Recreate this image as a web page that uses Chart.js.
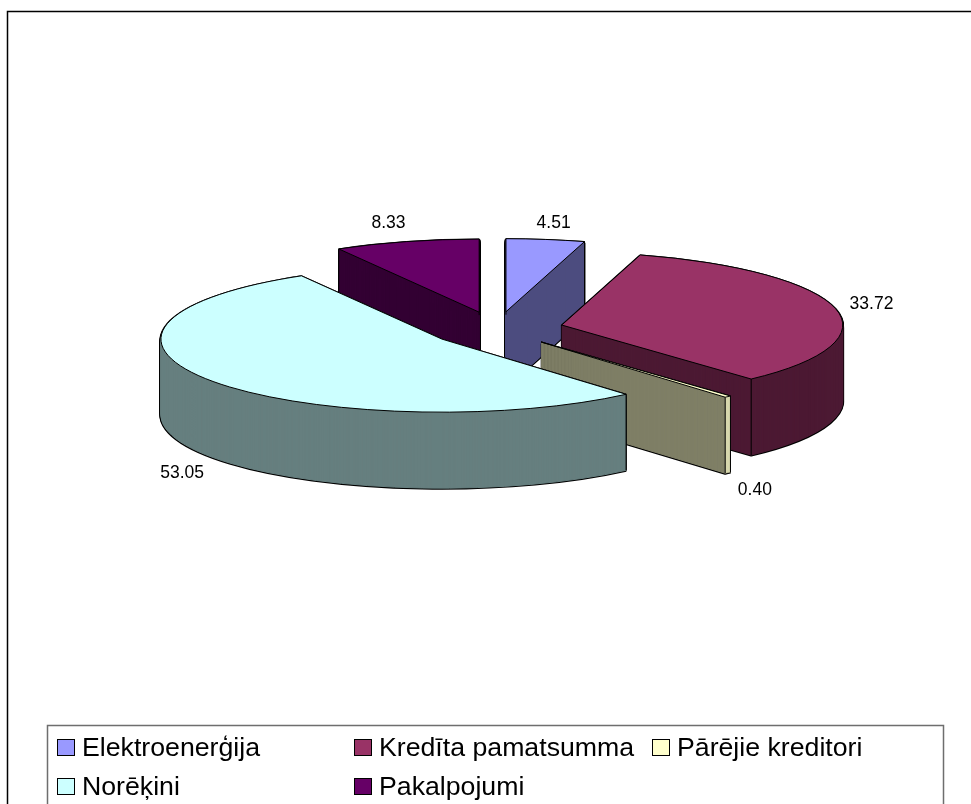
<!DOCTYPE html>
<html>
<head>
<meta charset="utf-8">
<style>html,body{margin:0;padding:0;background:#fff;overflow:hidden}canvas{display:block}</style>
<script src="https://cdn.jsdelivr.net/npm/chart.js@4/dist/chart.umd.js"></script>
</head>
<body>
<canvas id="c" width="971" height="804"></canvas>
<script>
const categories = ['Elektroenerģija', 'Kredīta pamatsumma', 'Pārējie kreditori', 'Norēķini', 'Pakalpojumi'];
const values = [4.51, 33.72, 0.40, 53.05, 8.33];
const valueLabels = ['4.51', '33.72', '0.40', '53.05', '8.33'];
const topColors = ['#9999FF', '#993366', '#FFFFCC', '#CCFFFF', '#660066'];
const wallColors = ['#4C4C7F', '#4C1933', '#7F7F66', '#667F7F', '#330033'];
const outerWallColors = [null, null, '#D6D6AC', null, null];
const drawOrder = [4, 0, 1, 2, 3];
const labelNudge = [[8, -11], [36, 0], [27, 22], [-31, 21], [-18, -14]];
const view = { cx: 496.5, cy: 329, squash: 0.26, depth: 76, radius: 281, explode: 67 };
const legendBox = { x: 47.5, y: 725.5, w: 896, h: 90 };
const legendCols = [57, 354, 652];
const legendRows = [739, 778];

const pie3d = {
  id: 'pie3d',
  beforeDatasetsDraw(chart) {
    const ctx = chart.ctx;
    const arcs = chart.getDatasetMeta(0).data;
    const s = view.squash;
    const realStroke = ctx.stroke;
    ctx.stroke = function () {
      ctx.save();
      ctx.setTransform(1, 0, 0, 1, 0, 0);
      realStroke.call(ctx);
      ctx.restore();
    };
    const paint = (arc, fill, stroke, width, dy) => {
      const saved = arc.options;
      const mid = (arc.startAngle + arc.endAngle) / 2;
      arc.options = Object.assign(Object.create(saved), { backgroundColor: fill, borderColor: stroke, borderWidth: width, offset: 0 });
      ctx.save();
      ctx.setTransform(1, 0, 0, s,
        view.cx - arc.x + view.explode * Math.cos(mid),
        view.cy - arc.y * s + s * view.explode * Math.sin(mid) + dy);
      arc.draw(ctx);
      ctx.restore();
      arc.options = saved;
    };
    const corner = (arc, angle) => {
      const mid = (arc.startAngle + arc.endAngle) / 2;
      return {
        x: view.cx + view.explode * Math.cos(mid) + arc.outerRadius * Math.cos(angle),
        y: view.cy + s * (view.explode * Math.sin(mid) + arc.outerRadius * Math.sin(angle))
      };
    };
    drawOrder.forEach(i => {
      const arc = arcs[i];
      for (let d = view.depth; d > 0; d--) paint(arc, 'rgba(0,0,0,0)', '#000', 3, d);
      for (let d = view.depth; d > 0; d--) paint(arc, wallColors[i], wallColors[i], 1, d);
      const a = corner(arc, arc.startAngle), b = corner(arc, arc.endAngle);
      if (outerWallColors[i]) {
        ctx.beginPath();
        ctx.moveTo(a.x, a.y); ctx.lineTo(b.x, b.y);
        ctx.lineTo(b.x, b.y + view.depth); ctx.lineTo(a.x, a.y + view.depth);
        ctx.closePath();
        ctx.fillStyle = outerWallColors[i];
        ctx.fill();
      }
      ctx.strokeStyle = '#000';
      ctx.lineWidth = 1;
      [a, b].forEach(p => {
        ctx.beginPath();
        ctx.moveTo(p.x, p.y);
        ctx.lineTo(p.x, p.y + view.depth);
        realStroke.call(ctx);
      });
      paint(arc, topColors[i], '#000', 1, 0);
    });
    ctx.stroke = realStroke;
    return false;
  },
  afterDraw(chart) {
    const ctx = chart.ctx;
    const arcs = chart.getDatasetMeta(0).data;
    ctx.save();
    ctx.setTransform(1, 0, 0, 1, 0, 0);
    // outer frame
    ctx.strokeStyle = '#000';
    ctx.lineWidth = 1.5;
    ctx.beginPath();
    ctx.moveTo(7.5, 804); ctx.lineTo(7.5, 11.5); ctx.lineTo(971, 11.5);
    ctx.stroke();
    // value labels
    ctx.fillStyle = '#000';
    ctx.textAlign = 'center';
    ctx.textBaseline = 'alphabetic';
    ctx.font = "17.5px 'Liberation Sans'";
    arcs.forEach((arc, i) => {
      const mid = (arc.startAngle + arc.endAngle) / 2;
      const r = view.explode + arc.outerRadius;
      const x = view.cx + r * Math.cos(mid);
      let y = view.cy + view.squash * r * Math.sin(mid);
      if (Math.sin(mid) > 0.3) y += view.depth;
      ctx.fillText(valueLabels[i], x + labelNudge[i][0], y + labelNudge[i][1]);
    });
    // legend
    ctx.strokeStyle = '#6e6e6e';
    ctx.lineWidth = 1.5;
    ctx.strokeRect(legendBox.x, legendBox.y, legendBox.w, legendBox.h);
    ctx.textAlign = 'left';
    ctx.font = "26.7px 'Liberation Sans'";
    categories.forEach((name, i) => {
      const col = legendCols[i % 3], row = legendRows[Math.floor(i / 3)];
      ctx.fillStyle = topColors[i];
      ctx.fillRect(col + 0.5, row + 0.5, 17, 16);
      ctx.strokeStyle = '#000';
      ctx.lineWidth = 1;
      ctx.strokeRect(col + 0.5, row + 0.5, 17, 16);
      ctx.fillStyle = '#000';
      ctx.fillText(name, col + 25, row + 17);
    });
    ctx.restore();
  }
};

new Chart(document.getElementById('c'), {
  type: 'pie',
  data: {
    labels: categories,
    datasets: [{ data: values, backgroundColor: topColors, borderColor: '#000', borderWidth: 1, offset: view.explode * 4 }]
  },
  options: {
    responsive: false,
    animation: false,
    radius: view.radius,
    plugins: { legend: { display: false }, tooltip: { enabled: false }, title: { display: false } }
  },
  plugins: [pie3d]
});
</script>
</body>
</html>
